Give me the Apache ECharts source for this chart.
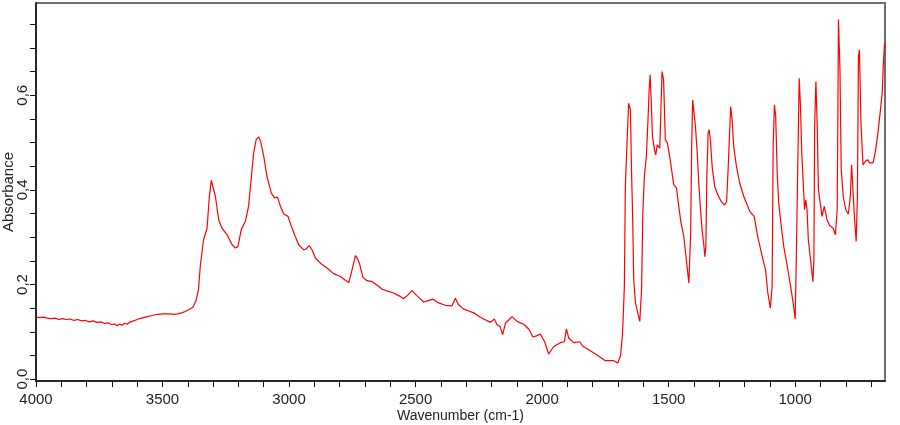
<!DOCTYPE html>
<html>
<head>
<meta charset="utf-8">
<title>IR spectrum</title>
<script src="https://cdn.jsdelivr.net/npm/echarts@6/dist/echarts.min.js"></script>
<style>
  html, body { margin: 0; padding: 0; background: #fff; }
  #chart { width: 900px; height: 425px; }
</style>
</head>
<body>
<div id="chart"></div>
<script>
// 4000 - 2800 cm-1
var wnHigh = [4000,3985,3970,3955,3940,3925,3910,3895,3880,3865,3850,3835,3820,3805,3790,3775,3760,3745,3730,3715,
  3700,3690,3680,3670,3660,3650,3640,3630,3620,3605,3590,3575,3560,3545,3530,3515,3500,3485,3470,3455,3440,3425,3410,
  3395,3380,3368,3358,3351,3338,3324,3315,3307,3300,3291,3278,3265,3245,3225,3212,3202,3189,3173,3160,3149,3140,3130,
  3120,3112,3100,3087,3070,3057,3046,3034,3021,3004,2991,2975,2962,2942,2933,2920,2909,2896,2876,2850,2824];
var absHigh = [.131,.130,.131,.129,.128,.129,.126,.128,.126,.127,.124,.126,.123,.124,.121,.123,.120,.121,.118,.119,
  .115,.117,.113,.116,.114,.118,.116,.120,.122,.125,.128,.130,.132,.134,.136,.137,.138,.138,.138,.137,.138,.140,.143,
  .147,.152,.165,.189,.238,.294,.319,.386,.420,.418,.386,.337,.319,.305,.284,.277,.280,.316,.333,.365,.428,.478,.506,
  .512,.502,.471,.428,.393,.383,.385,.365,.349,.344,.323,.301,.284,.273,.275,.282,.273,.256,.245,.235,.223];

// 2800 - 1700 cm-1
var wnMid = [2797,2780,2764,2751,2738,2730,2722,2708,2692,2672,2650,2632,2610,2587,2565,2547,2530,2514,2494,2468,
  2450,2431,2409,2382,2356,2343,2330,2310,2290,2270,2250,2231,2204,2189,2178,2166,2156,2145,2130,2119,2099,2073,2053,
  2036,2020,2007,1990,1974,1954,1928,1912,1904,1895,1875,1851,1840,1816,1783,1750,1717,1701];
var absMid = [.217,.210,.204,.231,.261,.255,.245,.215,.208,.206,.198,.190,.186,.182,.176,.170,.178,.187,.176,.163,
  .166,.169,.161,.156,.155,.171,.157,.148,.144,.140,.133,.127,.120,.127,.115,.111,.094,.118,.126,.132,.122,.116,.106,
  .089,.092,.095,.079,.053,.069,.077,.079,.106,.087,.077,.079,.070,.062,.051,.039,.039,.034];

// 1700 - 645 cm-1
var wnLow = [1690,1683,1680,1675,1671,1664,1658,1651,1647,1642,1638,1631,1622,1614,1607,1602,1596,1588,1581,1577,
  1573,1569,1564,1556,1551,1545,1539,1535,1531,1526,1520,1513,1505,1496,1490,1480,1469,1460,1451,1440,1430,1420,1416,
  1413,1409,1405,1401,1394,1387,1381,1374,1368,1361,1357,1353,1349,1344,1340,1335,1328,1318,1306,1292,1279,1271,1265,
  1258,1255,1249,1243,1232,1219,1203,1179,1162,1148,1130,1117,1108,1098,1091,1087,1082,1077,1071,1065,1055,1045,1031,
  1018,1008,1000,995,990,984,979,974,968,963,958,953,948,940,930,926,923,918,913,908,901,894,885,879,874,863,850,841,
  834,831,829,823,818,810,800,790,782,777,771,766,759,754,750,746,740,732,723,714,706,692,683,673,663,656,652,647,645];
var absLow = [.050,.090,.125,.196,.407,.506,.583,.569,.449,.337,.210,.161,.140,.122,.189,.351,.428,.471,.555,.612,
  .643,.590,.513,.485,.474,.495,.499,.488,.562,.650,.633,.506,.499,.471,.449,.411,.404,.365,.330,.301,.252,.203,.206,
  .309,.492,.590,.569,.534,.478,.414,.358,.316,.284,.259,.280,.428,.520,.527,.506,.449,.407,.390,.375,.368,.375,.443,
  .534,.576,.548,.492,.449,.414,.386,.354,.344,.301,.259,.231,.182,.150,.196,.492,.580,.555,.436,.372,.323,.280,.238,
  .196,.161,.127,.273,.443,.636,.576,.478,.414,.358,.379,.358,.294,.256,.206,.252,.538,.629,.538,.400,.372,.344,.365,.365,.337,.324,.319,.305,
  .358,.569,.760,.654,.443,.386,.358,.349,.386,.453,.453,.344,.291,.386,.682,.696,.541,.453,.460,.464,.457,.457,.481,.520,.569,.605,.661,.710,.700];

var xLabelValues = [1000,1500,2000,2500,3000,3500,4000];
var xTickValues = [700,800,900,1000,1100,1200,1300,1400,1500,1600,1700,1800,1900,2000,2100,2200,2300,2400,
  2500,2600,2700,2800,2900,3000,3100,3200,3300,3400,3500,3600,3700,3800,3900,4000];
var yLabelValues = [0,0.2,0.4,0.6];
var yTickValues = [0,0.05,0.1,0.15,0.2,0.25,0.3,0.35,0.4,0.45,0.5,0.55,0.6,0.65,0.7,0.75];

var wn = wnHigh.concat(wnMid, wnLow);
var ab = absHigh.concat(absMid, absLow);
var spectrum = wn.map(function (w, i) { return [w, ab[i]]; });

var chart = echarts.init(document.getElementById('chart'));
var font = 'Liberation Sans, Arial, sans-serif';

var option = {
  animation: false,
  grid: {
    left: 36, right: 15, top: 3, bottom: 44,
    containLabel: false,
    outerBoundsMode: 'none',
    show: true,
    borderColor: '#6e6e6e',
    borderWidth: 2
  },
  xAxis: {
    type: 'value',
    inverse: true,
    min: 645,
    max: 4000,
    name: 'Wavenumber (cm-1)',
    nameLocation: 'middle',
    nameGap: 28,
    nameMoveOverlap: false,
    nameTextStyle: { color: '#222', fontSize: 14, fontFamily: font },
    axisLine: { show: true, onZero: false, lineStyle: { color: '#111', width: 1.5 } },
    axisTick: { show: true, length: 6, customValues: xTickValues, lineStyle: { color: '#111' } },
    axisLabel: {
      customValues: xLabelValues, color: '#222', fontSize: 15, fontFamily: font, margin: 11,
      formatter: function (v) { return String(v); }
    },
    splitLine: { show: false }
  },
  yAxis: {
    type: 'value',
    min: -0.004,
    max: 0.795,
    name: 'Absorbance',
    nameLocation: 'middle',
    nameGap: 20,
    nameMoveOverlap: false,
    nameTextStyle: { color: '#222', fontSize: 15, fontFamily: font },
    axisLine: { show: true, onZero: false, lineStyle: { color: '#111', width: 1.5 } },
    axisTick: { show: true, length: 6, customValues: yTickValues, lineStyle: { color: '#111' } },
    axisLabel: {
      customValues: yLabelValues,
      rotate: 90,
      color: '#222', fontSize: 15, fontFamily: font, margin: 6,
      formatter: function (v) { return v.toFixed(1).replace('.', ','); }
    },
    splitLine: { show: false }
  },
  series: [{
    type: 'line',
    data: spectrum,
    showSymbol: false,
    lineStyle: { color: '#ff0000', width: 1.2 },
    silent: true
  }]
};

chart.setOption(option);

window.onresize = function () {
  chart.resize();
};
</script>
</body>
</html>
